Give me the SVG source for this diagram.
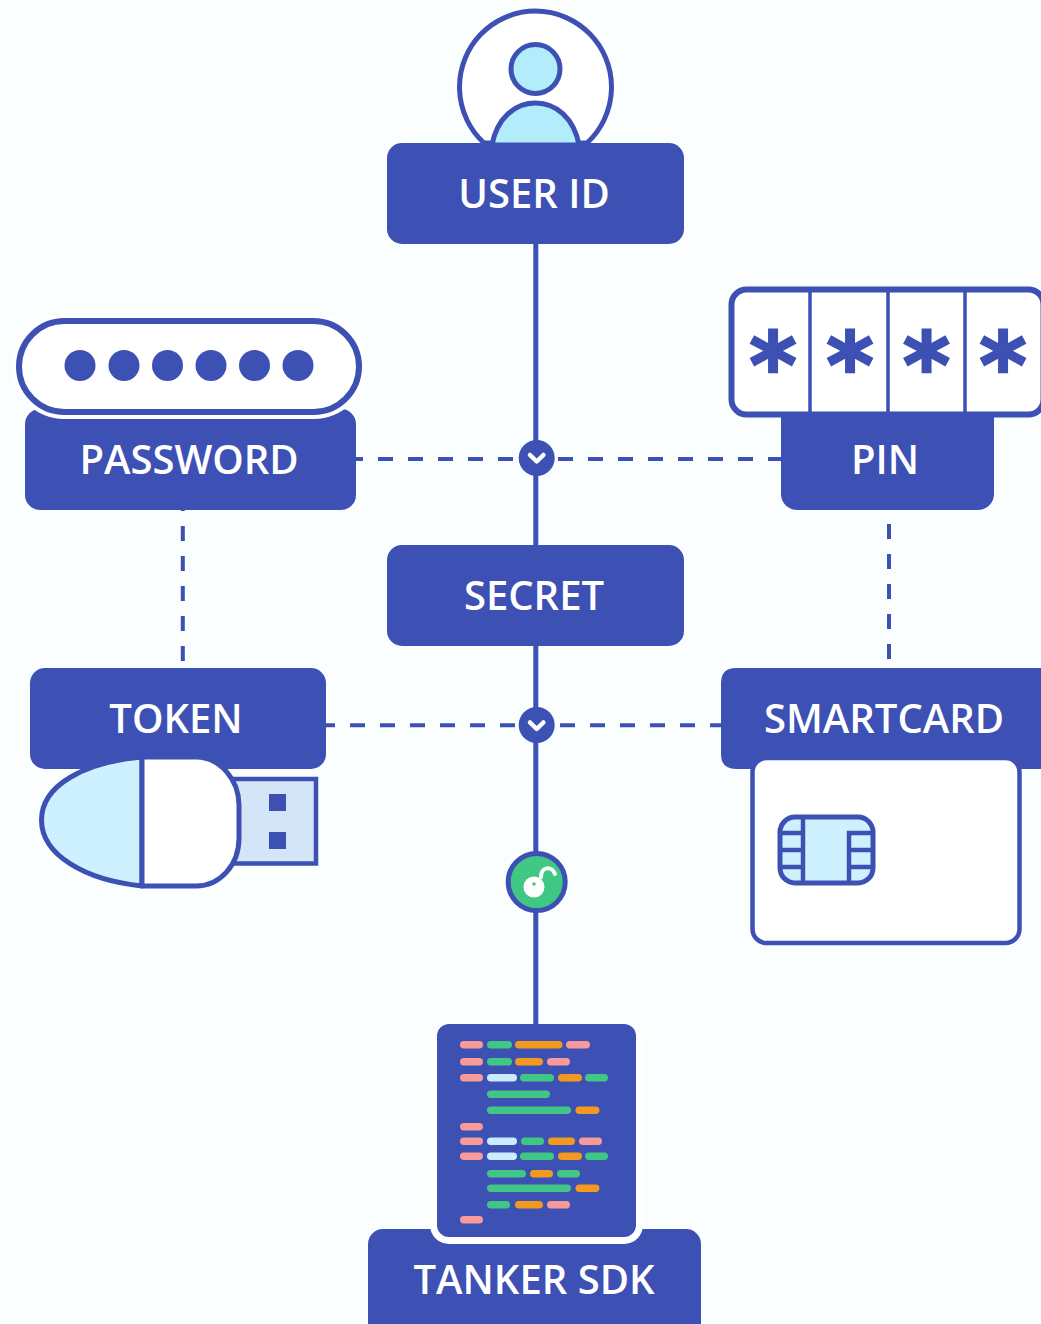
<svg xmlns="http://www.w3.org/2000/svg" width="1041" height="1324" viewBox="0 0 1041 1324">
<defs>
<style>
.bg{fill:#fbfeff}
.box{fill:#3d50b4}
.lbl{font-family:"Open Sans","Noto Sans",sans-serif;font-size:40px;font-weight:600;fill:#fff;text-anchor:middle}
.solid{stroke:#3d50b4;stroke-width:5;fill:none}
.dash{stroke:#3d50b4;stroke-width:4;fill:none;stroke-dasharray:15 15}
.ol{stroke:#3d50b4;stroke-width:5;stroke-linejoin:round}
.star{font-family:"DejaVu Sans",sans-serif;font-weight:700;font-size:90px;fill:#3d50b4;stroke:#3d50b4;stroke-width:2.500;text-anchor:middle}
.dot{fill:#3d50b4}
.chev{fill:none;stroke:#fff;stroke-width:4.500;stroke-linecap:round;stroke-linejoin:round}
.p{fill:#f79a99}.g{fill:#41c784}.o{fill:#f4991f}.w{fill:#c9edff}
</style>
</defs>
<rect class="bg" width="1041" height="1324"/>
<g id="connectors">
<line class="solid" x1="535.800" y1="240" x2="535.800" y2="1026"/>
<line class="dash" x1="348" y1="459" x2="782" y2="459"/>
<line class="dash" x1="320" y1="725.300" x2="722" y2="725.300"/>
<line class="dash" x1="182.800" y1="496" x2="182.800" y2="668"/>
<line class="dash" x1="889" y1="524" x2="889" y2="660"/>
</g>
<g id="user-id">
<path d="M484 143A76 76 0 1 1 587 143Z" fill="#fff" stroke="#3d50b4" stroke-width="5"/>
<circle cx="535.500" cy="69" r="24.500" fill="#b3ecfa" stroke="#3d50b4" stroke-width="5"/>
<path d="M492 145C497 118 515 103 535.500 103S574 118 579 145Z" fill="#b3ecfa" stroke="#3d50b4" stroke-width="5"/>
<rect class="box" x="387" y="143" width="297" height="101" rx="15"/>
<text class="lbl" x="534" y="208">USER ID</text>
</g>
<g id="password">
<rect class="box" x="25" y="409" width="331" height="101" rx="15"/>
<rect x="12" y="314" width="354" height="105" rx="52" fill="#fff"/>
<rect x="19" y="321" width="340" height="91" rx="45.500" fill="#fff" stroke="#3d50b4" stroke-width="6"/>
<circle class="dot" cx="80" cy="365.500" r="15.500"/><circle class="dot" cx="124" cy="365.500" r="15.500"/><circle class="dot" cx="167.500" cy="365.500" r="15.500"/><circle class="dot" cx="211" cy="365.500" r="15.500"/><circle class="dot" cx="254.500" cy="365.500" r="15.500"/><circle class="dot" cx="298" cy="365.500" r="15.500"/>
<text class="lbl" x="189" y="474">PASSWORD</text>
</g>
<g id="pin">
<rect class="box" x="781" y="400" width="213" height="110" rx="16"/>
<rect x="731.500" y="289.500" width="312" height="125" rx="15" fill="#fff" stroke="#3d50b4" stroke-width="6"/>
<path d="M810 290V414M888 290V414M965 290V414" stroke="#3d50b4" stroke-width="3.500" fill="none"/>
<text class="star" x="773" y="397">*</text><text class="star" x="850" y="397">*</text><text class="star" x="926.500" y="397">*</text><text class="star" x="1003" y="397">*</text>
<text class="lbl" x="885" y="474">PIN</text>
</g>
<g id="secret">
<rect class="box" x="387" y="545" width="297" height="101" rx="15"/>
<text class="lbl" x="534" y="610">SECRET</text>
</g>
<g id="token">
<rect class="box" x="30" y="668" width="296" height="101" rx="15"/>
<text class="lbl" x="176" y="733">TOKEN</text>
<rect x="232" y="779" width="84" height="84.500" fill="#d3e5f6" stroke="#3d50b4" stroke-width="4.500"/>
<rect class="dot" x="269" y="794" width="17" height="17"/><rect class="dot" x="269" y="832" width="17" height="17"/>
<path d="M142 757C85 762 41.500 785 41.500 820C41.500 855 85 880 142 886Z" fill="#cdf1ff" class="ol"/>
<path d="M142 757H196C220 757 239 780 239 805V838C239 865 220 886 196 886H142Z" fill="#fff" class="ol"/>
</g>
<g id="smartcard">
<path class="box" d="M736 668H1041V769H736Q721 769 721 754V683Q721 668 736 668Z"/>
<text class="lbl" x="884" y="733">SMARTCARD</text>
<rect x="752.500" y="758" width="267" height="185" rx="14" fill="#fff" stroke="#3d50b4" stroke-width="4.500"/>
<rect x="780" y="817" width="93" height="66" rx="15" fill="#cdf1ff" stroke="#3d50b4" stroke-width="5"/>
<path d="M803 817V883M849 883V833H873M780 833H803M780 850H803M780 867H803M849 850H873M849 867H873" fill="none" stroke="#3d50b4" stroke-width="4.500"/>
</g>
<g id="junction-1"><circle class="dot" cx="536.700" cy="458" r="18"/><path class="chev" d="M530 455L536.700 461.500L543.400 455"/></g>
<g id="junction-2"><circle class="dot" cx="536.700" cy="725" r="18"/><path class="chev" d="M530 722.500L536.700 729L543.400 722.500"/></g>
<g id="unlock">
<circle cx="536.700" cy="882" r="28.500" fill="#41c784" stroke="#3d50b4" stroke-width="5"/>
<path d="M541 877C541 866 552 866 555 874" fill="none" stroke="#fff" stroke-width="4" stroke-linecap="round"/>
<circle cx="534" cy="887" r="10.500" fill="#fff"/><circle cx="534" cy="884" r="1.800" fill="#41c784"/>
</g>
<g id="tanker-sdk">
<rect class="box" x="368" y="1229" width="333" height="110" rx="15"/>
<rect x="430" y="1024" width="213" height="220" rx="19" fill="#fff"/>
<rect class="box" x="437" y="1024" width="199" height="213" rx="12"/>
<g>
<rect class="p" x="460" y="1041" width="23" height="7.500" rx="3.700"/><rect class="g" x="487" y="1041" width="25" height="7.500" rx="3.700"/><rect class="o" x="515" y="1041" width="47.500" height="7.500" rx="3.700"/><rect class="p" x="566" y="1041" width="24" height="7.500" rx="3.700"/>
<rect class="p" x="460" y="1058" width="23" height="7.500" rx="3.700"/><rect class="g" x="487" y="1058" width="25" height="7.500" rx="3.700"/><rect class="o" x="515" y="1058" width="28" height="7.500" rx="3.700"/><rect class="p" x="547" y="1058" width="23" height="7.500" rx="3.700"/>
<rect class="p" x="460" y="1074" width="23" height="7.500" rx="3.700"/><rect class="w" x="487" y="1074" width="30" height="7.500" rx="3.700"/><rect class="g" x="520" y="1074" width="34" height="7.500" rx="3.700"/><rect class="o" x="558" y="1074" width="24" height="7.500" rx="3.700"/><rect class="g" x="585" y="1074" width="23" height="7.500" rx="3.700"/>
<rect class="g" x="487" y="1090.500" width="63" height="7.500" rx="3.700"/>
<rect class="g" x="487" y="1106.500" width="84" height="7.500" rx="3.700"/><rect class="o" x="575.500" y="1106.500" width="24" height="7.500" rx="3.700"/>
<rect class="p" x="460" y="1123" width="23" height="7.500" rx="3.700"/>
<rect class="p" x="460" y="1137.500" width="23" height="7.500" rx="3.700"/><rect class="w" x="487" y="1137.500" width="30" height="7.500" rx="3.700"/><rect class="g" x="521" y="1137.500" width="23" height="7.500" rx="3.700"/><rect class="o" x="548" y="1137.500" width="27" height="7.500" rx="3.700"/><rect class="p" x="579" y="1137.500" width="23" height="7.500" rx="3.700"/>
<rect class="p" x="460" y="1152.500" width="23" height="7.500" rx="3.700"/><rect class="w" x="487" y="1152.500" width="30" height="7.500" rx="3.700"/><rect class="g" x="520" y="1152.500" width="34" height="7.500" rx="3.700"/><rect class="o" x="558" y="1152.500" width="24" height="7.500" rx="3.700"/><rect class="g" x="585" y="1152.500" width="23" height="7.500" rx="3.700"/>
<rect class="g" x="487" y="1170" width="39" height="7.500" rx="3.700"/><rect class="o" x="530" y="1170" width="23" height="7.500" rx="3.700"/><rect class="g" x="557" y="1170" width="23" height="7.500" rx="3.700"/>
<rect class="g" x="487" y="1184.500" width="84" height="7.500" rx="3.700"/><rect class="o" x="575.500" y="1184.500" width="24" height="7.500" rx="3.700"/>
<rect class="g" x="487" y="1201" width="23" height="7.500" rx="3.700"/><rect class="o" x="515" y="1201" width="28" height="7.500" rx="3.700"/><rect class="p" x="547" y="1201" width="23" height="7.500" rx="3.700"/>
<rect class="p" x="460" y="1216" width="23" height="7.500" rx="3.700"/>
</g>
<text class="lbl" x="534" y="1294">TANKER SDK</text>
</g>
</svg>
